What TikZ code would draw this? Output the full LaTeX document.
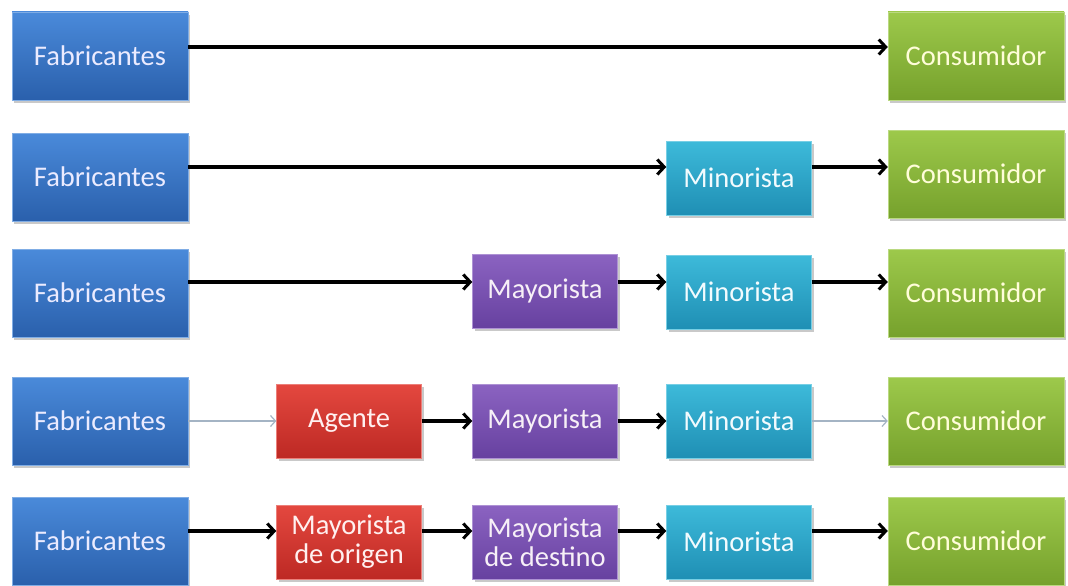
\documentclass[tikz,border=0pt]{standalone}
\usepackage{fontspec}
\setmainfont{Carlito}
\usetikzlibrary{arrows.meta,shadows}
\definecolor{bluT}{HTML}{4A8ADA}\definecolor{bluB}{HTML}{2A60AC}
\definecolor{grnT}{HTML}{9DC94B}\definecolor{grnB}{HTML}{76A12C}
\definecolor{cyaT}{HTML}{3DBADA}\definecolor{cyaB}{HTML}{1F8FB4}
\definecolor{purT}{HTML}{8B63C1}\definecolor{purB}{HTML}{6741A0}
\definecolor{redT}{HTML}{E4483F}\definecolor{redB}{HTML}{BD2924}
\definecolor{grayarr}{HTML}{A4B4C4}
\tikzset{
  box/.style={rectangle, inner sep=0pt, align=center,
    font=\fontsize{28.5}{29}\selectfont,
    drop shadow={shadow xshift=2pt, shadow yshift=-3pt, opacity=0.35, fill=black!60}},
  bigbox/.style={box, minimum width=176pt, minimum height=88pt},
  smallbox/.style={box, minimum width=145pt, minimum height=74pt},
  fab/.style={bigbox, top color=bluT, bottom color=bluB, draw=bluT!70!white, text=blue!8!white},
  con/.style={bigbox, top color=grnT, bottom color=grnB, draw=grnT!70!white, text=yellow!15!white},
  mino/.style={smallbox, top color=cyaT, bottom color=cyaB, draw=cyaT!70!white, text=cyan!5!white},
  mayo/.style={smallbox, top color=purT, bottom color=purB, draw=purT!70!white, text=violet!6!white},
  redb/.style={smallbox, top color=redT, bottom color=redB, draw=redT!70!white, text=red!6!white},
  arr/.style={line width=3.2pt, black, -{Straight Barb[length=7pt,width=15pt,line width=3pt]}},
  garr/.style={line width=1.3pt, grayarr, -{Straight Barb[length=5pt,width=11pt,line width=1.2pt]}}
}
\begin{document}
\begin{tikzpicture}[x=1pt,y=-1pt]
\useasboundingbox[fill=white] (0,0) rectangle (1068,586);
% row 1
\node[fab] (f1) at (100,56) {Fabricantes};
\node[con] (c1) at (976,56) {Consumidor};
\draw[arr] ([yshift=9pt]f1.east) -- ([yshift=9pt]c1.west);
% row 2
\node[fab] (f2) at (100,177) {Fabricantes};
\node[mino] (n2) at (739,178) {Minorista};
\node[con] (c2) at (976,174) {Consumidor};
\draw[arr] ([yshift=10pt]f2.east) -- ([yshift=11pt]n2.west);
\draw[arr] ([yshift=11pt]n2.east) -- ([yshift=7pt]c2.west);
% row 3
\node[fab] (f3) at (100,293) {Fabricantes};
\node[mayo] (m3) at (545,291) {Mayorista};
\node[mino] (n3) at (739,292) {Minorista};
\node[con] (c3) at (976,293) {Consumidor};
\draw[arr] ([yshift=11pt]f3.east) -- ([yshift=9pt]m3.west);
\draw[arr] ([yshift=9pt]m3.east) -- ([yshift=10pt]n3.west);
\draw[arr] ([yshift=10pt]n3.east) -- ([yshift=11pt]c3.west);
% row 4
\node[fab] (f4) at (100,421) {Fabricantes};
\node[redb] (a4) at (349,421) {Agente};
\node[mayo] (m4) at (545,421) {Mayorista};
\node[mino] (n4) at (739,421) {Minorista};
\node[con] (c4) at (976,421) {Consumidor};
\draw[garr] (f4.east) -- (a4.west);
\draw[arr] (a4.east) -- (m4.west);
\draw[arr] (m4.east) -- (n4.west);
\draw[garr] (n4.east) -- (c4.west);
% row 5
\node[fab] (f5) at (100,541) {Fabricantes};
\node[redb] (a5) at (349,542) {Mayorista\\de origen};
\node[mayo] (m5) at (545,542) {Mayorista\\de destino};
\node[mino] (n5) at (739,542) {Minorista};
\node[con] (c5) at (976,541) {Consumidor};
\draw[arr] ([yshift=10pt]f5.east) -- ([yshift=11pt]a5.west);
\draw[arr] ([yshift=11pt]a5.east) -- ([yshift=11pt]m5.west);
\draw[arr] ([yshift=11pt]m5.east) -- ([yshift=11pt]n5.west);
\draw[arr] ([yshift=11pt]n5.east) -- ([yshift=10pt]c5.west);
\end{tikzpicture}
\end{document}
